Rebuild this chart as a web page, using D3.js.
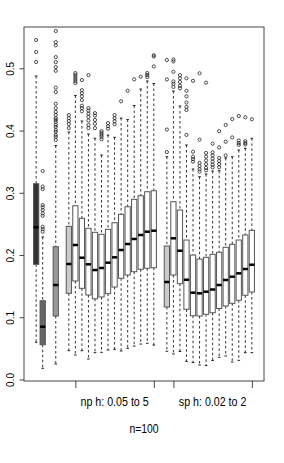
<!DOCTYPE html>
<html>
<head>
<meta charset="utf-8">
<script src="https://cdn.jsdelivr.net/npm/d3@7"></script>
<style>
  body { margin: 0; background: #fff; }
  svg { display: block; }
  text { font-family: "Liberation Sans", Arial, sans-serif; fill: #000; }
</style>
</head>
<body>
<div id="chart"></div>
<script>
// slot of each box on the x axis (empty slots are gaps)
const boxAt = [1, 2, 4,
  6, 7, 8, 9, 10, 11, 12, 13, 14, 15, 16, 17, 18, 19,
  21, 22, 23, 24, 25, 26, 27, 28, 29, 30, 31, 32, 33, 34];

// five number summaries
const lo = [0.0598, 0.018, 0.0249,
  0.0463, 0.0394, 0.0463, 0.0329, 0.0431, 0.0437, 0.0474, 0.0485, 0.0458, 0.0501, 0.0538, 0.057, 0.0582, 0.0554,
  0.0453, 0.041, 0.045, 0.0292, 0.0273, 0.0233, 0.0225, 0.0305, 0.0357, 0.0378, 0.0281, 0.0308, 0.0431, 0.0431];
const q1 = [0.1851, 0.0559, 0.102,
  0.1385, 0.1583, 0.1465, 0.1358, 0.1297, 0.1326, 0.1379, 0.1486, 0.1626, 0.1679, 0.1732, 0.1771, 0.1787, 0.1796,
  0.1165, 0.1679, 0.1539, 0.1128, 0.1025, 0.102, 0.1048, 0.1073, 0.1141, 0.1181, 0.1224, 0.1273, 0.1353, 0.1406];
const med = [0.2445, 0.0848, 0.1518,
  0.1856, 0.2161, 0.1957, 0.1851, 0.1759, 0.1792, 0.1877, 0.1963, 0.2081, 0.2177, 0.2258, 0.2322, 0.2375, 0.2391,
  0.1567, 0.2269, 0.2069, 0.1603, 0.1395, 0.1385, 0.1411, 0.1446, 0.1518, 0.1599, 0.1652, 0.1706, 0.1775, 0.1844];
const q3 = [0.3146, 0.1266, 0.2134,
  0.2461, 0.2792, 0.259, 0.2429, 0.2365, 0.2333, 0.2413, 0.2519, 0.2654, 0.2776, 0.2895, 0.2953, 0.3017, 0.3033,
  0.2145, 0.2857, 0.2723, 0.2241, 0.2, 0.1936, 0.1963, 0.2012, 0.2044, 0.2124, 0.2172, 0.2241, 0.2322, 0.2397];
const hi = [0.4876, 0.229, 0.376,
  0.3977, 0.4563, 0.4153, 0.3944, 0.3877, 0.3607, 0.3928, 0.3891, 0.4201, 0.4177, 0.4402, 0.4667, 0.4796, 0.4756,
  0.358, 0.4635, 0.4394, 0.3768, 0.3382, 0.3258, 0.3302, 0.335, 0.3355, 0.3559, 0.358, 0.3687, 0.3715, 0.3875];

// outlying points per box
const outliers = [
  [0.5455, 0.5262, 0.5101],
  [0.335, 0.31, 0.306, 0.2804, 0.2767, 0.2723, 0.267, 0.263, 0.2455, 0.2418, 0.2375],
  [0.560, 0.542, 0.537, 0.518, 0.510, 0.502, 0.496, 0.469, 0.462, 0.443, 0.436, 0.43, 0.425, 0.42, 0.417, 0.414, 0.409, 0.406, 0.401, 0.398, 0.393, 0.390, 0.385],
  [0.425, 0.42, 0.4153, 0.4105, 0.404],
  [0.4924, 0.4892, 0.486, 0.4828, 0.4796, 0.4763],
  [0.4812, 0.465, 0.46, 0.455, 0.449, 0.44, 0.436, 0.431],
  [0.489, 0.436, 0.432, 0.427, 0.422, 0.416, 0.409, 0.404],
  [0.428, 0.424, 0.417, 0.411, 0.404],
  [0.399, 0.396, 0.393, 0.39, 0.386],
  [0.412, 0.407, 0.403],
  [0.425, 0.42, 0.415, 0.41],
  [0.447],
  [0.464],
  [0.4823],
  [0.4865],
  [0.4924, 0.4892, 0.486],
  [0.521, 0.519, 0.503],
  [0.5133, 0.4821, 0.4016, 0.3655],
  [0.5142, 0.511, 0.4945, 0.479, 0.475, 0.47],
  [0.489, 0.484, 0.478, 0.472, 0.468],
  [0.484, 0.464, 0.455, 0.445, 0.438, 0.433, 0.393],
  [0.48, 0.366, 0.358, 0.354, 0.35],
  [0.492, 0.3855, 0.348, 0.343, 0.338, 0.334],
  [0.477, 0.364, 0.358, 0.352, 0.346, 0.34, 0.336],
  [0.379, 0.365, 0.36, 0.355, 0.35, 0.345, 0.341],
  [0.399, 0.373, 0.356, 0.351, 0.346, 0.341],
  [0.409, 0.382, 0.36],
  [0.4185, 0.389],
  [0.4234, 0.384, 0.38, 0.377],
  [0.4213, 0.383, 0.38, 0.3776],
  [0.4181]
];

// axis ticks and labels
const yTicks = [0, 0.1, 0.2, 0.3, 0.4, 0.5];
const xTicks = [7, 19, 22, 34];
const groupAt = [13, 28];
const groupLabels = ["np h: 0.05 to 5", "sp h: 0.02 to 2"];
const subtitle = "n=100";

const width = 284;
const height = 463;
const plot = { left: 24, right: 264, top: 27, bottom: 381 };

const svg = d3.select('#chart')
  .append('svg')
  .attr('width', width)
  .attr('height', height);

// R style extent: 34 slots plus 4% either side
const nSlots = 34;
const pad = 0.04 * nSlots;
const x = d3.scaleLinear()
  .domain([0.5 - pad, nSlots + 0.5 + pad])
  .range([plot.left, plot.right]);

const y = d3.scaleLinear()
  .domain([-0.0024, 0.5664])
  .range([plot.bottom, plot.top]);

const boxW = (x(1) - x(0)) * 0.8;
const capW = boxW * 0.5;

const fill = d3.scaleOrdinal()
  .domain([1, 2, 4, 6, 21])
  .range(['#333333', '#666666', '#999999', '#cccccc', '#cccccc'])
  .unknown('#ffffff');

const boxes = boxAt.map((k, i) => ({
  k, lo: lo[i], q1: q1[i], med: med[i], q3: q3[i], hi: hi[i], out: outliers[i]
}));

const g = svg.append('g');

// whiskers
const wg = g.selectAll('g.box').data(boxes).join('g').attr('class', 'box');
wg.append('line')
  .attr('x1', d => x(d.k)).attr('x2', d => x(d.k))
  .attr('y1', d => y(d.hi)).attr('y2', d => y(d.q3))
  .attr('stroke', '#333').attr('stroke-width', 1).attr('stroke-dasharray', '2.5,2.5');
wg.append('line')
  .attr('x1', d => x(d.k)).attr('x2', d => x(d.k))
  .attr('y1', d => y(d.q1)).attr('y2', d => y(d.lo))
  .attr('stroke', '#333').attr('stroke-width', 1).attr('stroke-dasharray', '2.5,2.5');
// staples
['hi', 'lo'].forEach(key => {
  wg.append('line')
    .attr('x1', d => x(d.k) - capW / 2).attr('x2', d => x(d.k) + capW / 2)
    .attr('y1', d => y(d[key])).attr('y2', d => y(d[key]))
    .attr('stroke', '#222').attr('stroke-width', 1);
});
// boxes
wg.append('rect')
  .attr('x', d => x(d.k) - boxW / 2)
  .attr('width', boxW)
  .attr('y', d => y(d.q3))
  .attr('height', d => y(d.q1) - y(d.q3))
  .attr('fill', d => fill(d.k))
  .attr('stroke', '#555').attr('stroke-width', 1);
// medians
wg.append('line')
  .attr('x1', d => x(d.k) - boxW / 2).attr('x2', d => x(d.k) + boxW / 2)
  .attr('y1', d => y(d.med)).attr('y2', d => y(d.med))
  .attr('stroke', '#000').attr('stroke-width', 2.5);
// outliers
wg.selectAll('circle')
  .data(d => d.out.map(v => ({ k: d.k, v })))
  .join('circle')
  .attr('cx', d => x(d.k))
  .attr('cy', d => y(d.v))
  .attr('r', 1.6)
  .attr('fill', 'none')
  .attr('stroke', '#222')
  .attr('stroke-width', 0.8);

// frame
svg.append('rect')
  .attr('x', plot.left).attr('y', plot.top)
  .attr('width', plot.right - plot.left)
  .attr('height', plot.bottom - plot.top)
  .attr('fill', 'none').attr('stroke', '#444').attr('stroke-width', 1);

// y axis with rotated labels
const yAxis = svg.append('g')
  .attr('transform', `translate(${plot.left},0)`)
  .call(d3.axisLeft(y).tickValues(yTicks).tickFormat(d3.format('.1f')).tickSize(4.5));
yAxis.select('.domain').remove();
yAxis.selectAll('.tick line').attr('stroke', '#444');
yAxis.selectAll('.tick text')
  .attr('x', null).attr('dy', '0.36em')
  .attr('text-anchor', 'middle')
  .attr('transform', 'translate(-13.3,0) rotate(-90)')
  .style('font-size', '10px')
  .style('font-family', '"Liberation Sans", Arial, sans-serif')
  .attr('fill', '#000');

// x axis: ticks only, group labels below
const xAxis = svg.append('g')
  .attr('transform', `translate(0,${plot.bottom})`)
  .call(d3.axisBottom(x).tickValues(xTicks).tickFormat('').tickSize(7));
xAxis.select('.domain').remove();
xAxis.selectAll('.tick line').attr('stroke', '#444');

// narrow lettering like Helvetica Narrow
function narrow(sel, f) {
  sel.each(function () {
    const w = this.getComputedTextLength();
    d3.select(this).attr('textLength', w * f).attr('lengthAdjust', 'spacingAndGlyphs');
  });
}

svg.selectAll('text.group')
  .data(groupAt)
  .join('text')
  .attr('class', 'group')
  .attr('x', d => x(d))
  .attr('y', 406)
  .attr('text-anchor', 'middle')
  .style('font-size', '13px')
  .text((d, i) => groupLabels[i])
  .call(narrow, 0.82);

svg.append('text')
  .attr('x', (plot.left + plot.right) / 2)
  .attr('y', 433.3)
  .attr('text-anchor', 'middle')
  .style('font-size', '13px')
  .text(subtitle)
  .call(narrow, 0.8);
</script>
</body>
</html>
